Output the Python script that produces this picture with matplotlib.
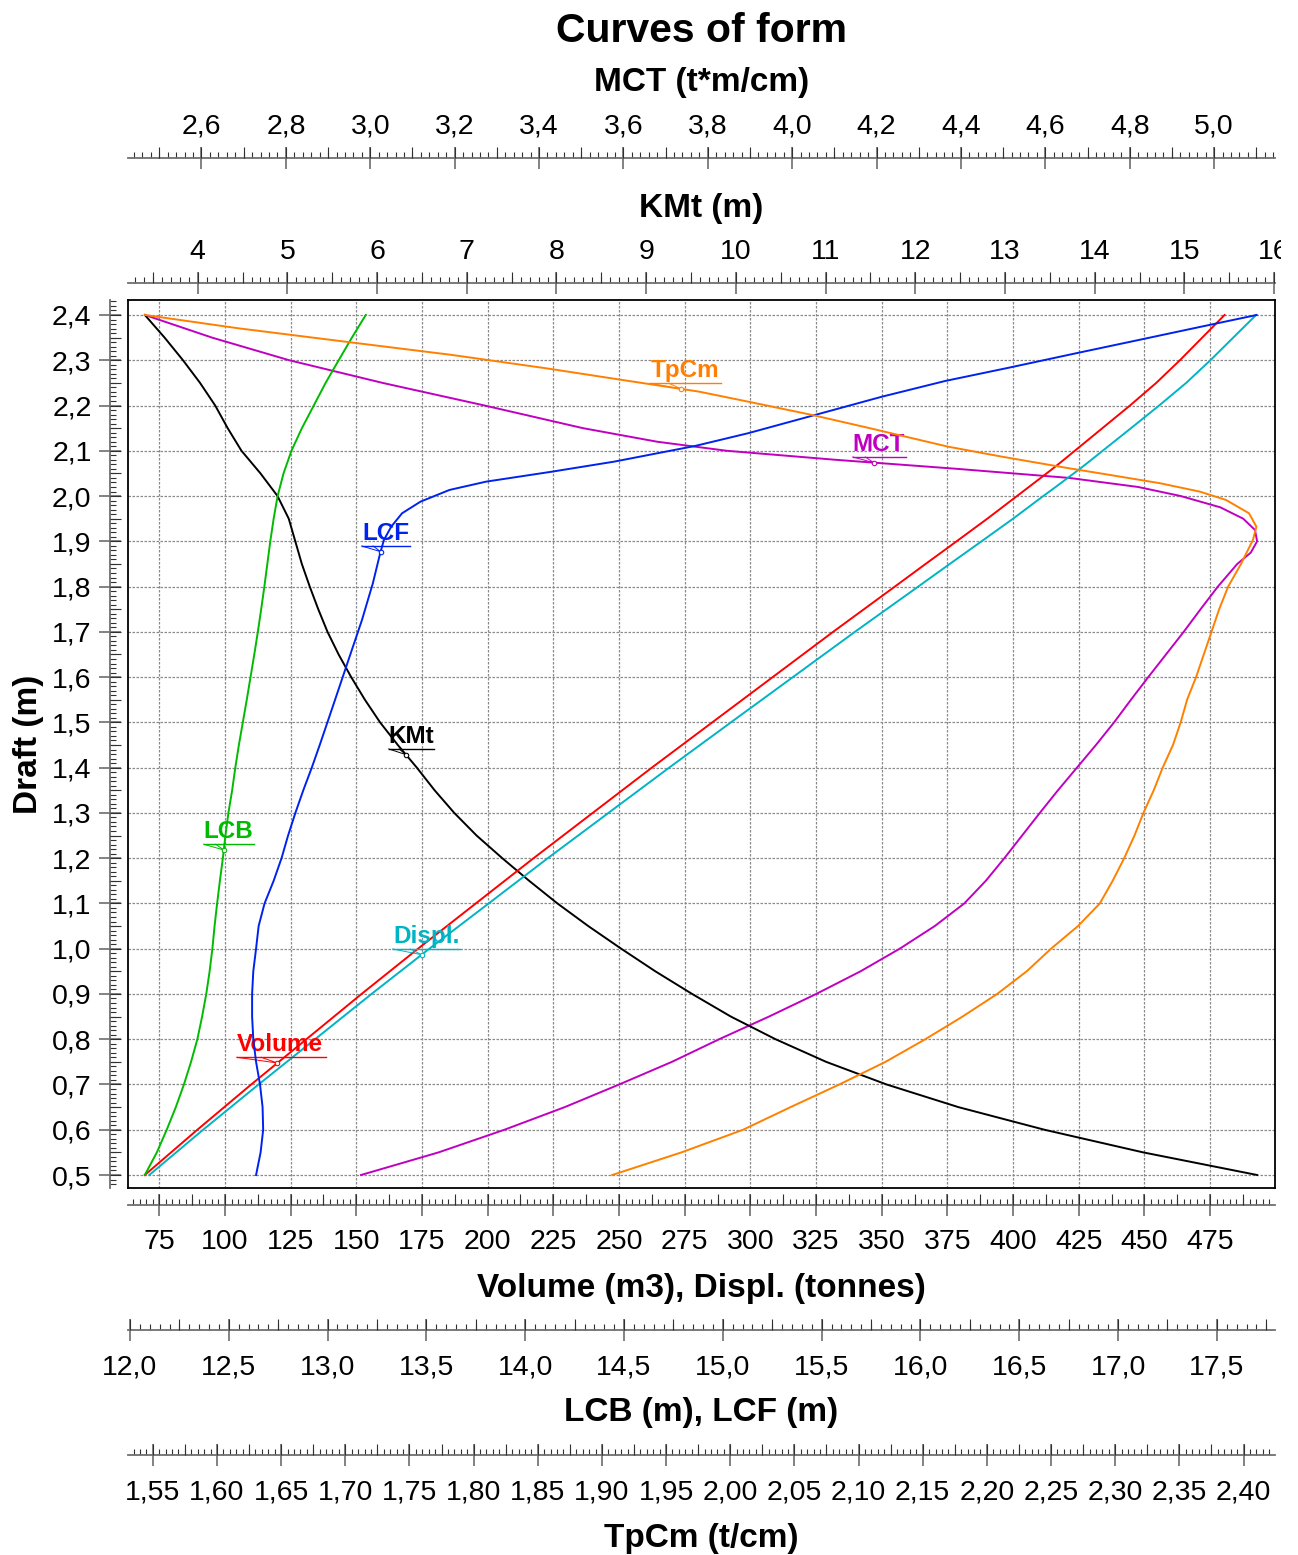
import numpy as np
import matplotlib
matplotlib.use('Agg')
import matplotlib.pyplot as plt
import matplotlib.transforms as mtransforms
from matplotlib.ticker import MultipleLocator, FuncFormatter, NullFormatter

plt.rcParams['font.family'] = ['Liberation Sans', 'DejaVu Sans']

# 吃水 (m) —— 排水体积/排水量用
draft_v = np.array([0.50, 0.60, 0.70, 0.80, 0.90, 1.00, 1.10, 1.20, 1.30, 1.40,
                    1.50, 1.60, 1.70, 1.80, 1.85, 1.90, 1.95, 2.00, 2.02, 2.04,
                    2.06, 2.08, 2.10, 2.15, 2.20, 2.25, 2.30, 2.35, 2.40])
volume = np.array([69.5, 89.5, 110.0, 131.0, 152.0, 173.5, 195.5, 217.5, 240.0, 262.5,
                   285.5, 308.5, 331.5, 355.0, 366.7, 378.5, 390.2, 401.5, 406.0, 410.5,
                   415.0, 419.3, 423.5, 434.0, 444.5, 454.5, 463.5, 472.0, 480.5])
displ = np.array([71.2, 91.7, 112.8, 134.3, 155.8, 177.8, 200.4, 222.9, 246.0, 269.1,
                  292.6, 316.2, 339.8, 363.9, 375.9, 388.0, 400.0, 411.5, 416.2, 420.8,
                  425.4, 429.8, 434.1, 444.9, 455.6, 465.9, 475.1, 483.8, 492.5])

# 吃水 —— KMt、LCB 用 (每 0.05)
draft_s = np.array([0.50, 0.55, 0.60, 0.65, 0.70, 0.75, 0.80, 0.85, 0.90, 0.95,
                    1.00, 1.05, 1.10, 1.15, 1.20, 1.25, 1.30, 1.35, 1.40, 1.45,
                    1.50, 1.55, 1.60, 1.65, 1.70, 1.75, 1.80, 1.85, 1.90, 1.95,
                    2.00, 2.05, 2.10, 2.15, 2.20, 2.25, 2.30, 2.35, 2.40])
kmt = np.array([15.811, 14.540, 13.440, 12.480, 11.680, 11.006, 10.442, 9.944, 9.512, 9.102,
                8.721, 8.354, 8.010, 7.695, 7.395, 7.109, 6.860, 6.641, 6.443, 6.231,
                6.033, 5.864, 5.711, 5.571, 5.447, 5.344, 5.249, 5.161, 5.088, 5.015,
                4.890, 4.700, 4.488, 4.334, 4.195, 4.026, 3.836, 3.631, 3.411])
lcb = np.array([12.075, 12.136, 12.186, 12.232, 12.273, 12.309, 12.341, 12.365, 12.386, 12.403,
                12.417, 12.428, 12.441, 12.455, 12.470, 12.483, 12.498, 12.517, 12.533, 12.551,
                12.571, 12.591, 12.610, 12.629, 12.647, 12.664, 12.680, 12.695, 12.710, 12.727,
                12.747, 12.777, 12.817, 12.870, 12.930, 12.990, 13.056, 13.123, 13.193])

# LCF
draft_c = np.array([0.50, 0.55, 0.60, 0.65, 0.70, 0.75, 0.80, 0.85, 0.90, 0.95,
                    1.00, 1.05, 1.10, 1.15, 1.20, 1.25, 1.30, 1.35, 1.40, 1.4523,
                    1.5347, 1.6306, 1.7263, 1.8073, 1.8736, 1.9030, 1.9324, 1.9620, 1.9876, 2.0135,
                    2.0318, 2.0539, 2.0760, 2.1107, 2.1388, 2.1792, 2.2196, 2.2542, 2.2837, 2.3155,
                    2.3464, 2.3742, 2.4000])
lcf = np.array([12.638, 12.661, 12.674, 12.671, 12.658, 12.638, 12.624, 12.618, 12.618, 12.624,
                12.638, 12.651, 12.681, 12.727, 12.767, 12.800, 12.837, 12.877, 12.920, 12.962,
                13.026, 13.100, 13.174, 13.229, 13.266, 13.285, 13.322, 13.377, 13.470, 13.617,
                13.802, 14.136, 14.450, 14.860, 15.128, 15.467, 15.806, 16.125, 16.449, 16.788,
                17.122, 17.421, 17.701])

# MCT
draft_m = np.array([0.50, 0.55, 0.60, 0.65, 0.70, 0.75, 0.80, 0.85, 0.90, 0.95,
                    1.00, 1.05, 1.10, 1.15, 1.20, 1.25, 1.30, 1.35, 1.40, 1.45,
                    1.50, 1.55, 1.60, 1.65, 1.70, 1.75, 1.80, 1.85, 1.875, 1.90,
                    1.925, 1.95, 1.975, 2.00, 2.02, 2.04, 2.06, 2.08, 2.10, 2.12,
                    2.15, 2.20, 2.25, 2.30, 2.35, 2.40])
mct = np.array([2.978, 3.162, 3.318, 3.461, 3.590, 3.715, 3.827, 3.945, 4.057, 4.162,
                4.255, 4.338, 4.408, 4.459, 4.503, 4.545, 4.587, 4.630, 4.675, 4.720,
                4.763, 4.803, 4.844, 4.886, 4.928, 4.968, 5.009, 5.055, 5.087, 5.102,
                5.097, 5.069, 5.015, 4.921, 4.820, 4.657, 4.392, 4.104, 3.845, 3.680,
                3.504, 3.271, 3.029, 2.808, 2.625, 2.466])

# TpCm
draft_t = np.array([0.50, 0.55, 0.60, 0.65, 0.70, 0.75, 0.80, 0.85, 0.90, 0.95,
                    1.00, 1.05, 1.10, 1.15, 1.20, 1.25, 1.30, 1.35, 1.40, 1.45,
                    1.50, 1.55, 1.60, 1.65, 1.70, 1.75, 1.80, 1.85, 1.9030, 1.9324,
                    1.9620, 1.9914, 2.0097, 2.0283, 2.0466, 2.0614, 2.0870, 2.1091, 2.1498, 2.1792,
                    2.2086, 2.2307, 2.2565, 2.2823, 2.3117, 2.3411, 2.3707, 2.4000])
tpcm = np.array([1.908, 1.962, 2.010, 2.047, 2.085, 2.121, 2.152, 2.181, 2.208, 2.231,
                 2.250, 2.271, 2.288, 2.298, 2.307, 2.315, 2.322, 2.330, 2.337, 2.345,
                 2.351, 2.356, 2.363, 2.369, 2.375, 2.381, 2.388, 2.398, 2.4073, 2.4100,
                 2.4042, 2.3863, 2.3660, 2.3349, 2.2959, 2.2639, 2.2117, 2.1697, 2.1089, 2.0637,
                 2.0138, 1.9756, 1.9157, 1.8564, 1.7832, 1.6998, 1.6164, 1.5439])

# 各坐标轴范围
vol_lim = (63.1, 499.7)
kmt_lim = (3.223, 16.010)
mct_lim = (2.4258, 5.1444)
lcb_lim = (11.990, 17.794)
tpc_lim = (1.5307, 2.4245)
draft_lim = (0.4713, 2.4331)

W, H = 1298, 1555
fig = plt.figure(figsize=(W / 100, H / 100), dpi=100)
ax = fig.add_axes([128 / W, 1 - 1188 / H, 1147 / W, 888 / H])
ax.set_xlim(vol_lim)
ax.set_ylim(draft_lim)
ax.set_xticks(np.arange(75, 500, 25))
ax.set_yticks(np.arange(0.5, 2.41, 0.1))
ax.tick_params(length=0, labelbottom=False, labelleft=False)
ax.grid(True, color='#8a8a8a', linestyle=(0, (2, 1.2)), linewidth=0.9)
for s in ax.spines.values():
    s.set_linewidth(1.3)


def comma(nd):
    return FuncFormatter(lambda v, p: ('%.*f' % (nd, v)).replace('.', ','))


def make_scale(side, lim, off_px, major, medium, minor, nd):
    horiz = side in ('top', 'bottom')
    a = ax.twiny() if horiz else ax.twinx()
    m = ax.twiny() if horiz else ax.twinx()  # 中等刻度
    for t in (a, m):
        if horiz:
            t.set_xlim(lim)
            axis = t.xaxis
        else:
            t.set_ylim(lim)
            axis = t.yaxis
        for s in t.spines.values():
            s.set_visible(False)
        t.spines[side].set_position(('outward', off_px * 0.72))
        axis.set_ticks_position(side)
    a.spines[side].set_visible(True)
    a.spines[side].set_color('#707070')
    a.spines[side].set_linewidth(1.3)
    axis = a.xaxis if horiz else a.yaxis
    axis.set_major_locator(MultipleLocator(major))
    axis.set_minor_locator(MultipleLocator(minor))
    axis.set_major_formatter(comma(nd))
    pad = 9.2 if side == 'bottom' else 5
    # 小刻度总是画在轴线上方（左轴朝右）
    sub = 'out' if side == 'top' else 'in'
    a.tick_params(axis='x' if horiz else 'y', which='major', direction='inout',
                  length=16.5, width=1.1, color='#606060', labelsize=20.5, pad=pad)
    a.tick_params(axis='x' if horiz else 'y', which='minor', direction=sub,
                  length=4.3, width=0.8, color='#303030')
    maxis = m.xaxis if horiz else m.yaxis
    maxis.set_major_locator(MultipleLocator(medium))
    maxis.set_major_formatter(NullFormatter())
    m.tick_params(axis='x' if horiz else 'y', which='major', direction=sub,
                  length=8, width=0.8, color='#303030')
    return a


ax_mct = make_scale('top', mct_lim, 142, 0.2, 0.1, 0.02, 1)
ax_kmt = make_scale('top', kmt_lim, 17, 1, 0.5, 0.1, 0)
ax_vol = make_scale('bottom', vol_lim, 17, 25, 12.5, 2.5, 0)
ax_lcb = make_scale('bottom', lcb_lim, 142, 0.5, 0.25, 0.05, 1)
ax_tpc = make_scale('bottom', tpc_lim, 267, 0.05, 0.025, 0.005, 2)
ax_dr = make_scale('left', draft_lim, 18, 0.1, 0.05, 0.01, 1)

# 曲线
c_vol, c_dis, c_lcb, c_lcf = '#ff0000', '#00b4c4', '#00bb00', '#0022ee'
c_kmt, c_mct, c_tpc = '#000000', '#c000c0', '#ff8000'
lw = 1.4
ax_vol.plot(volume, draft_v, color=c_vol, lw=lw)
ax_vol.plot(displ, draft_v, color=c_dis, lw=lw)
ax_lcb.plot(lcb, draft_s, color=c_lcb, lw=lw)
ax_lcb.plot(lcf, draft_c, color=c_lcf, lw=lw)
ax_kmt.plot(kmt, draft_s, color=c_kmt, lw=lw)
ax_mct.plot(mct, draft_m, color=c_mct, lw=lw)
ax_tpc.plot(tpcm, draft_t, color=c_tpc, lw=lw)


# 曲线标签（带下划线和引线），偏移单位为像素
def tag(t, dr, values, d, text, color, tx, ul0, ul1):
    xv = np.interp(d, dr, values)
    off = fig.dpi_scale_trans + mtransforms.ScaledTranslation(xv, d, t.transData)
    t.text(tx / 100, 11.5 / 100, text, transform=off, color=color, fontsize=17.5,
           fontweight='bold', ha='left', va='baseline')
    t.plot([ul0 / 100, ul1 / 100], [5.7 / 100, 5.7 / 100], transform=off, color=color, lw=1)
    t.plot([ul0 / 100, 0, ul0 * 0.4 / 100], [5.7 / 100, 0, 5.7 / 100], transform=off,
           color=color, lw=0.7)
    t.plot([0], [0], 'o', transform=off, ms=3.2, mfc='white', mec=color, mew=0.8)


tag(ax_tpc, draft_t, tpcm, 2.2366, 'TpCm', c_tpc, -30.3, -31.3, 39.4)
tag(ax_mct, draft_m, mct, 2.0738, 'MCT', c_mct, -21, -21, 32.3)
tag(ax_lcb, draft_c, lcf, 1.8771, 'LCF', c_lcf, -18.4, -19, 29.3)
tag(ax_kmt, draft_s, kmt, 1.4287, 'KMt', c_kmt, -17.1, -17.2, 28.5)
tag(ax_lcb, draft_s, lcb, 1.2181, 'LCB', c_lcb, -20.2, -20.2, 30.3)
tag(ax_vol, draft_v, displ, 0.9867, 'Displ.', c_dis, -28.2, -29, 38.4)
tag(ax_vol, draft_v, volume, 0.7475, 'Volume', c_vol, -40.3, -40.7, 49)

# 重新锁定范围
for t, lim in ((ax_mct, mct_lim), (ax_kmt, kmt_lim), (ax_vol, vol_lim),
               (ax_lcb, lcb_lim), (ax_tpc, tpc_lim), (ax, vol_lim)):
    t.set_xlim(lim)
ax.set_ylim(draft_lim)

# 标题
cx = 701.5 / W
fig.text(cx, 1 - 31 / H, 'Curves of form', ha='center', va='center', fontsize=29.5, fontweight='bold')
fig.text(cx, 1 - 83 / H, 'MCT (t*m/cm)', ha='center', va='center', fontsize=24, fontweight='bold')
fig.text(cx, 1 - 208 / H, 'KMt (m)', ha='center', va='center', fontsize=24, fontweight='bold')
fig.text(cx, 1 - 1288 / H, 'Volume (m3), Displ. (tonnes)', ha='center', va='center', fontsize=24, fontweight='bold')
fig.text(cx, 1 - 1413 / H, 'LCB (m), LCF (m)', ha='center', va='center', fontsize=24, fontweight='bold')
fig.text(cx, 1 - 1538 / H, 'TpCm (t/cm)', ha='center', va='center', fontsize=24, fontweight='bold')
fig.text(28 / W, 1 - 744 / H, 'Draft (m)', ha='center', va='center', rotation=90, fontsize=24, fontweight='bold')

# KMt 轴最右边的 "16" 被截掉一半
fig.canvas.draw()
for tk in ax_kmt.xaxis.get_major_ticks():
    tk.label2.set_clip_box(mtransforms.Bbox.from_extents(0, 0, 1281, H))
    tk.label2.set_clip_on(True)

fig.savefig('out.png', dpi=100)
